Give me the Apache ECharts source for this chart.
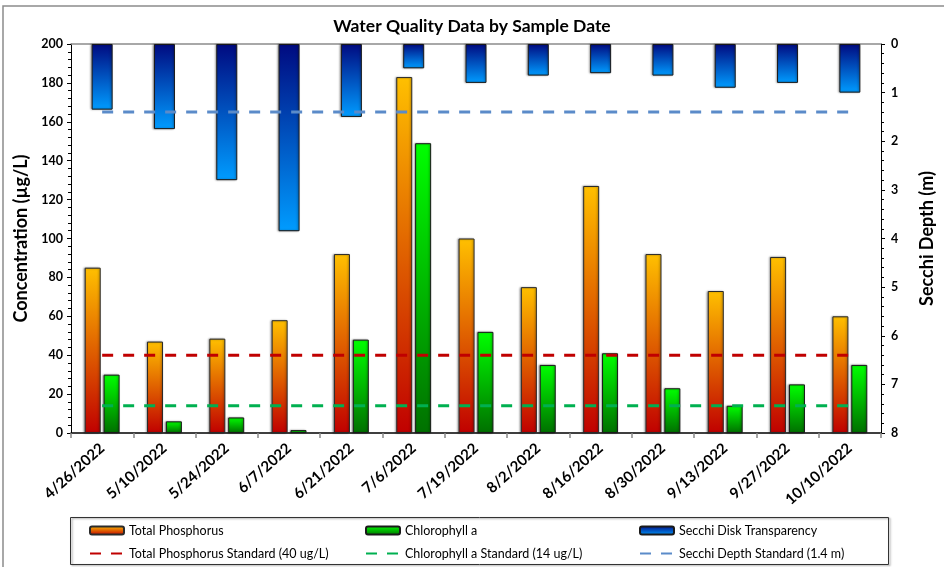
<!DOCTYPE html>
<html>
<head>
<meta charset="utf-8">
<script src="https://cdn.jsdelivr.net/npm/echarts@6/dist/echarts.min.js"></script>
<style>html,body{margin:0;padding:0;background:#fff;}#c{width:944px;height:567px;}</style>
</head>
<body>
<div id="c"></div>
<script>
var categories = ['4/26/2022','5/10/2022','5/24/2022','6/7/2022','6/21/2022','7/6/2022','7/19/2022','8/2/2022','8/16/2022','8/30/2022','9/13/2022','9/27/2022','10/10/2022'];
var totalPhosphorus = [85, 47, 48.5, 58, 92, 183, 100, 75, 127, 92, 73, 90.5, 60];
var chlorophyllA = [30, 6, 8, 1.5, 48, 149, 52, 35, 41, 23, 14, 25, 35];
var secchiDepth = [1.35, 1.75, 2.8, 3.85, 1.5, 0.5, 0.8, 0.65, 0.6, 0.65, 0.9, 0.8, 1.0];
var tpStandard = [40, 40, 40, 40, 40, 40, 40, 40, 40, 40, 40, 40, 40];
var chlStandard = [14, 14, 14, 14, 14, 14, 14, 14, 14, 14, 14, 14, 14];
var secchiStandard = [1.4, 1.4, 1.4, 1.4, 1.4, 1.4, 1.4, 1.4, 1.4, 1.4, 1.4, 1.4, 1.4];
var leftTicks = {min: 0, max: 200, interval: 20};
var rightTicks = {min: 0, max: 8, interval: 1};

var FONT = 'Lato';
function grad(top, bottom) {
  return new echarts.graphic.LinearGradient(0, 0, 0, 1, [{offset: 0, color: top}, {offset: 1, color: bottom}]);
}
var tpStyle = {color: grad('#FFC000', '#C00000'), borderColor: '#2a2a2a', borderWidth: 1, shadowColor: 'rgba(0,0,0,0.35)', shadowBlur: 2, shadowOffsetX: -1};
var chlStyle = {color: grad('#00FF00', '#007000'), borderColor: '#1a1a1a', borderWidth: 1, shadowColor: 'rgba(0,0,0,0.35)', shadowBlur: 2, shadowOffsetX: -1};
var secStyle = {color: grad('#000A80', '#009CFF'), borderColor: '#1a1a1a', borderWidth: 1, shadowColor: 'rgba(0,0,0,0.35)', shadowBlur: 2, shadowOffsetX: -1};

function legendAt(name, left, top, isLine) {
  var l = {
    data: [name], left: left, top: top, itemWidth: 34, itemHeight: 8, itemGap: 4,
    textStyle: {fontFamily: FONT, fontSize: 12.5, color: '#000'}, selectedMode: false, padding: 0
  };
  if (isLine) { l.itemStyle = {opacity: 0, color: 'transparent', borderWidth: 0}; }
  return l;
}

var chart = echarts.init(document.getElementById('c'), null, {renderer: 'canvas'});
chart.setOption({
  backgroundColor: '#fff',
  animation: false,
  title: {
    text: 'Water Quality Data by Sample Date', left: 'center', top: 12,
    textStyle: {fontFamily: FONT, fontSize: 17.5, fontWeight: 'bold', color: '#000'}
  },
  graphic: [
    {type: 'rect', shape: {x: 3, y: 6, width: 1000, height: 1000}, style: {fill: 'none', stroke: '#8c8c8c', lineWidth: 1.5}, z: -1},
    {type: 'rect', shape: {x: 70.5, y: 517.5, width: 818, height: 47}, style: {fill: 'none', stroke: '#333', lineWidth: 1, shadowColor: 'rgba(0,0,0,0.4)', shadowBlur: 2, shadowOffsetX: 1.5, shadowOffsetY: 1}, z: -1}
  ],
  legend: [
    legendAt('Total Phosphorus', 89, 524),
    legendAt('Chlorophyll a', 365, 524),
    legendAt('Secchi Disk Transparency', 639, 524),
    legendAt('Total Phosphorus Standard (40 ug/L)', 89, 547, true),
    legendAt('Chlorophyll a Standard (14 ug/L)', 365, 547, true),
    legendAt('Secchi Depth Standard (1.4 m)', 639, 547, true)
  ],
  grid: {left: 71, right: 46, top: 44, bottom: 134},
  xAxis: [
    {
      type: 'category', data: categories, position: 'bottom', boundaryGap: true,
      axisLine: {lineStyle: {color: '#000', width: 1.5}},
      axisTick: {show: true, interval: 0, length: 5, lineStyle: {color: '#888', width: 1.5}},
      axisLabel: {interval: 0, rotate: 42, margin: 13, fontFamily: FONT, fontSize: 15, fontWeight: 'bold', color: '#000'},
      splitLine: {show: false}
    },
    {
      type: 'category', data: categories, position: 'top', boundaryGap: true,
      axisLine: {show: true, lineStyle: {color: '#8c8c8c', width: 1.5}},
      axisTick: {show: false}, axisLabel: {show: false}, splitLine: {show: false}
    }
  ],
  yAxis: [
    {
      type: 'value', position: 'left', min: leftTicks.min, max: leftTicks.max, interval: leftTicks.interval,
      name: 'Concentration (µg/L)', nameLocation: 'middle', nameGap: 40,
      nameTextStyle: {fontFamily: FONT, fontSize: 18, fontWeight: 'bold', color: '#000'},
      axisLine: {show: true, lineStyle: {color: '#000', width: 1}},
      axisTick: {show: true, length: 4, lineStyle: {color: '#000'}},
      minorTick: {show: true, splitNumber: 5, length: 3, lineStyle: {color: '#000'}},
      axisLabel: {fontFamily: FONT, fontSize: 12.5, fontWeight: 'bold', color: '#000', margin: 8},
      splitLine: {show: false}
    },
    {
      type: 'value', position: 'right', inverse: true, min: rightTicks.min, max: rightTicks.max, interval: rightTicks.interval,
      name: 'Secchi Depth (m)', nameLocation: 'middle', nameGap: 37,
      nameTextStyle: {fontFamily: FONT, fontSize: 18, fontWeight: 'bold', color: '#000'},
      axisLine: {show: true, lineStyle: {color: '#000', width: 1}},
      axisTick: {show: true, length: 4, lineStyle: {color: '#000'}},
      minorTick: {show: true, splitNumber: 5, length: 3, lineStyle: {color: '#000'}},
      axisLabel: {fontFamily: FONT, fontSize: 12.5, fontWeight: 'bold', color: '#000', margin: 10},
      splitLine: {show: false}
    }
  ],
  series: [
    {name: 'Total Phosphorus', type: 'bar', xAxisIndex: 0, yAxisIndex: 0, data: totalPhosphorus, barWidth: 16, barGap: '18%', itemStyle: tpStyle, z: 2},
    {name: 'Chlorophyll a', type: 'bar', xAxisIndex: 0, yAxisIndex: 0, data: chlorophyllA, barWidth: 16, barGap: '18%', itemStyle: chlStyle, z: 2},
    {name: 'Secchi Disk Transparency', type: 'bar', xAxisIndex: 1, yAxisIndex: 1, data: secchiDepth, barWidth: 21, itemStyle: secStyle, z: 2},
    {name: 'Total Phosphorus Standard (40 ug/L)', type: 'line', xAxisIndex: 0, yAxisIndex: 0, data: tpStandard, symbol: 'none', itemStyle: {color: '#C00000'}, lineStyle: {color: '#C00000', width: 3, type: [11, 10]}, z: 3},
    {name: 'Chlorophyll a Standard (14 ug/L)', type: 'line', xAxisIndex: 0, yAxisIndex: 0, data: chlStandard, symbol: 'none', itemStyle: {color: '#00B050'}, lineStyle: {color: '#00B050', width: 3, type: [11, 10]}, z: 3},
    {name: 'Secchi Depth Standard (1.4 m)', type: 'line', xAxisIndex: 0, yAxisIndex: 1, data: secchiStandard, symbol: 'none', itemStyle: {color: '#5B8BC9'}, lineStyle: {color: '#5B8BC9', width: 3, type: [11, 10]}, z: 3}
  ]
});
</script>
</body>
</html>
